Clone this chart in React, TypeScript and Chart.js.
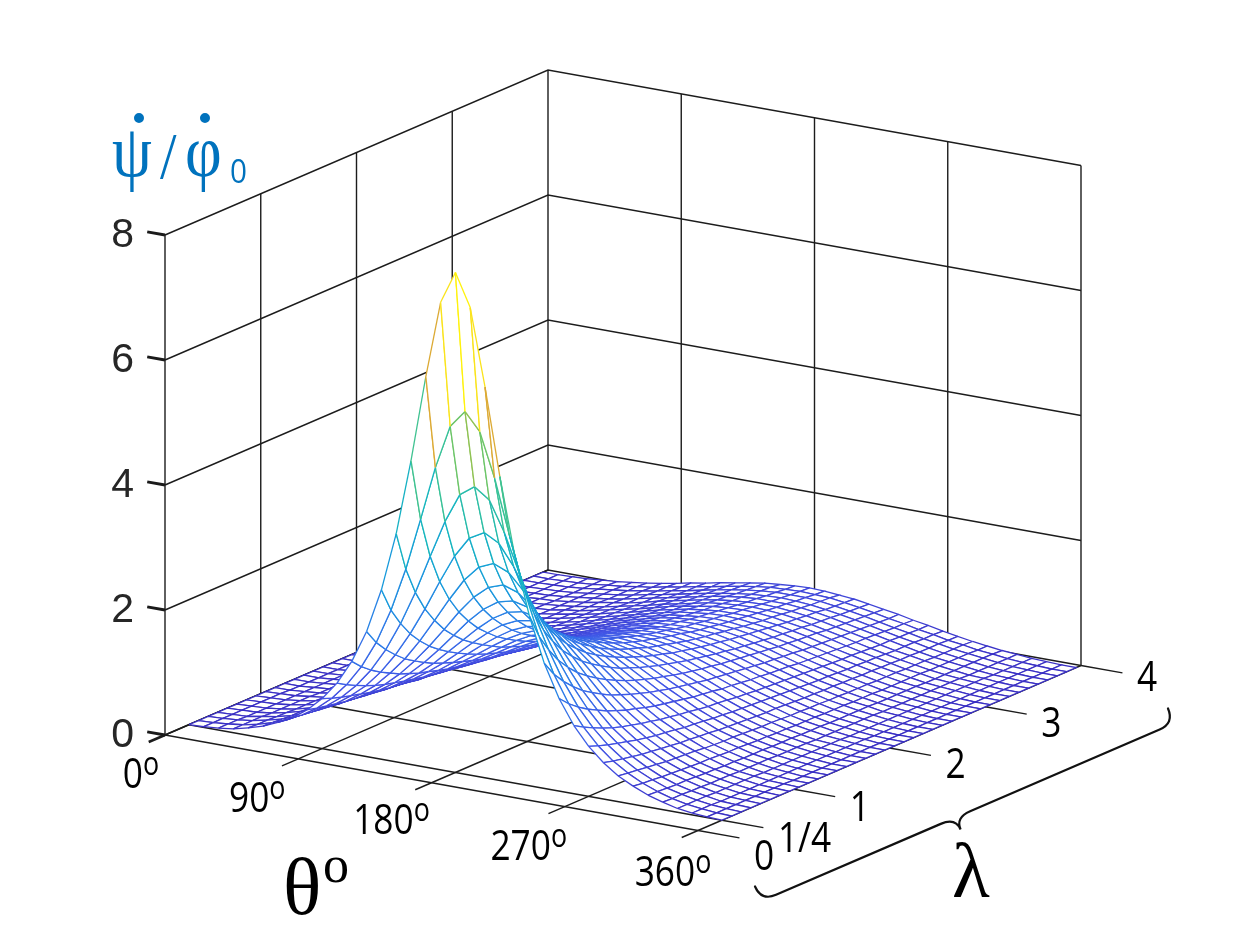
import { useEffect, useRef } from "react";
import { Chart, registerables } from "chart.js";

Chart.register(...registerables);

// mesh grid: θ in degrees (10° steps) and λ rows
const thetaDegrees = [0, 10, 20, 30, 40, 50, 60, 70, 80, 90, 100, 110, 120, 130, 140, 150, 160, 170, 180,
  190, 200, 210, 220, 230, 240, 250, 260, 270, 280, 290, 300, 310, 320, 330, 340, 350, 360];
const lambdaValues = [0.25, 0.35, 0.45, 0.55, 0.65, 0.75, 0.85, 0.95, 1.05, 1.15, 1.25, 1.35, 1.45, 1.55, 1.65,
  1.75, 1.85, 1.95, 2.05, 2.15, 2.25, 2.35, 2.45, 2.55, 2.65, 2.75, 2.85, 2.95, 3.05, 3.15, 3.25, 3.35, 3.45,
  3.55, 3.65, 3.75, 3.85, 3.95];

// ψ'/φ'0 along θ, one row per λ
const rowL025 = [0,.01,.03,.06,.12,.19,.29,.41,.58,.8,1.09,1.48,2,2.71,3.65,4.86,6.25,7.48,8,7.48,6.25,4.86,3.65,2.71,2,1.48,1.09,.8,.58,.41,.29,.19,.12,.06,.03,.01,0];
const rowL035 = [0,.01,.03,.06,.11,.18,.27,.39,.54,.74,1,1.33,1.76,2.32,3.02,3.86,4.73,5.43,5.71,5.43,4.73,3.86,3.02,2.32,1.76,1.33,1,.74,.54,.39,.27,.18,.11,.06,.03,.01,0];
const rowL045 = [0,.01,.03,.06,.11,.17,.26,.37,.51,.69,.92,1.21,1.58,2.04,2.58,3.2,3.8,4.27,4.44,4.27,3.8,3.2,2.58,2.04,1.58,1.21,.92,.69,.51,.37,.26,.17,.11,.06,.03,.01,0];
const rowL055 = [0,.01,.02,.06,.1,.16,.24,.35,.48,.65,.85,1.11,1.43,1.81,2.25,2.73,3.18,3.51,3.64,3.51,3.18,2.73,2.25,1.81,1.43,1.11,.85,.65,.48,.35,.24,.16,.1,.06,.02,.01,0];
const rowL065 = [0,.01,.02,.05,.1,.16,.23,.33,.45,.61,.79,1.03,1.3,1.63,2,2.38,2.73,2.98,3.08,2.98,2.73,2.38,2,1.63,1.3,1.03,.79,.61,.45,.33,.23,.16,.1,.05,.02,.01,0];
const rowL075 = [0,.01,.02,.05,.09,.15,.22,.31,.43,.57,.74,.95,1.2,1.48,1.79,2.11,2.39,2.59,2.67,2.59,2.39,2.11,1.79,1.48,1.2,.95,.74,.57,.43,.31,.22,.15,.09,.05,.02,.01,0];
const rowL085 = [0,.01,.02,.05,.09,.14,.21,.3,.41,.54,.7,.89,1.11,1.36,1.63,1.9,2.13,2.29,2.35,2.29,2.13,1.9,1.63,1.36,1.11,.89,.7,.54,.41,.3,.21,.14,.09,.05,.02,.01,0];
const rowL095 = [0,.01,.02,.05,.09,.14,.2,.29,.39,.51,.66,.83,1.03,1.26,1.49,1.72,1.92,2.06,2.11,2.06,1.92,1.72,1.49,1.26,1.03,.83,.66,.51,.39,.29,.2,.14,.09,.05,.02,.01,0];
const rowL105 = [0,.01,.02,.05,.08,.13,.2,.28,.37,.49,.63,.79,.97,1.17,1.38,1.58,1.75,1.86,1.9,1.86,1.75,1.58,1.38,1.17,.97,.79,.63,.49,.37,.28,.2,.13,.08,.05,.02,.01,0];
const rowL115 = [0,0,.02,.04,.08,.13,.19,.26,.36,.47,.59,.74,.91,1.09,1.28,1.45,1.6,1.7,1.74,1.7,1.6,1.45,1.28,1.09,.91,.74,.59,.47,.36,.26,.19,.13,.08,.04,.02,0,0];
const rowL125 = [0,0,.02,.04,.08,.12,.18,.25,.34,.44,.57,.7,.86,1.02,1.19,1.35,1.48,1.57,1.6,1.57,1.48,1.35,1.19,1.02,.86,.7,.57,.44,.34,.25,.18,.12,.08,.04,.02,0,0];
const rowL135 = [0,0,.02,.04,.08,.12,.18,.24,.33,.43,.54,.67,.81,.96,1.11,1.26,1.38,1.45,1.48,1.45,1.38,1.26,1.11,.96,.81,.67,.54,.43,.33,.24,.18,.12,.08,.04,.02,0,0];
const rowL145 = [0,0,.02,.04,.07,.12,.17,.24,.31,.41,.52,.64,.77,.91,1.05,1.18,1.28,1.35,1.38,1.35,1.28,1.18,1.05,.91,.77,.64,.52,.41,.31,.24,.17,.12,.07,.04,.02,0,0];
const rowL155 = [0,0,.02,.04,.07,.11,.16,.23,.3,.39,.49,.61,.73,.86,.99,1.11,1.2,1.27,1.29,1.27,1.2,1.11,.99,.86,.73,.61,.49,.39,.3,.23,.16,.11,.07,.04,.02,0,0];
const rowL165 = [0,0,.02,.04,.07,.11,.16,.22,.29,.38,.47,.58,.7,.82,.94,1.05,1.13,1.19,1.21,1.19,1.13,1.05,.94,.82,.7,.58,.47,.38,.29,.22,.16,.11,.07,.04,.02,0,0];
const rowL175 = [0,0,.02,.04,.07,.11,.15,.21,.28,.36,.46,.56,.67,.78,.89,.99,1.07,1.12,1.14,1.12,1.07,.99,.89,.78,.67,.56,.46,.36,.28,.21,.15,.11,.07,.04,.02,0,0];
const rowL185 = [0,0,.02,.04,.06,.1,.15,.21,.27,.35,.44,.54,.64,.74,.85,.94,1.02,1.06,1.08,1.06,1.02,.94,.85,.74,.64,.54,.44,.35,.27,.21,.15,.1,.06,.04,.02,0,0];
const rowL195 = [0,0,.02,.04,.06,.1,.14,.2,.26,.34,.42,.51,.61,.71,.81,.9,.96,1.01,1.03,1.01,.96,.9,.81,.71,.61,.51,.42,.34,.26,.2,.14,.1,.06,.04,.02,0,0];
const rowL205 = [0,0,.02,.03,.06,.1,.14,.19,.26,.33,.41,.5,.59,.68,.77,.85,.92,.96,.98,.96,.92,.85,.77,.68,.59,.5,.41,.33,.26,.19,.14,.1,.06,.03,.02,0,0];
const rowL215 = [0,0,.01,.03,.06,.09,.14,.19,.25,.32,.39,.48,.57,.66,.74,.82,.88,.92,.93,.92,.88,.82,.74,.66,.57,.48,.39,.32,.25,.19,.14,.09,.06,.03,.01,0,0];
const rowL225 = [0,0,.01,.03,.06,.09,.13,.18,.24,.31,.38,.46,.55,.63,.71,.78,.84,.88,.89,.88,.84,.78,.71,.63,.55,.46,.38,.31,.24,.18,.13,.09,.06,.03,.01,0,0];
const rowL235 = [0,0,.01,.03,.06,.09,.13,.18,.23,.3,.37,.45,.53,.61,.68,.75,.8,.84,.85,.84,.8,.75,.68,.61,.53,.45,.37,.3,.23,.18,.13,.09,.06,.03,.01,0,0];
const rowL245 = [0,0,.01,.03,.06,.09,.13,.17,.23,.29,.36,.43,.51,.59,.66,.72,.77,.81,.82,.81,.77,.72,.66,.59,.51,.43,.36,.29,.23,.17,.13,.09,.06,.03,.01,0,0];
const rowL255 = [0,0,.01,.03,.05,.09,.12,.17,.22,.28,.35,.42,.49,.57,.63,.7,.74,.77,.78,.77,.74,.7,.63,.57,.49,.42,.35,.28,.22,.17,.12,.09,.05,.03,.01,0,0];
const rowL265 = [0,0,.01,.03,.05,.08,.12,.16,.22,.27,.34,.41,.48,.55,.61,.67,.72,.74,.75,.74,.72,.67,.61,.55,.48,.41,.34,.27,.22,.16,.12,.08,.05,.03,.01,0,0];
const rowL275 = [0,0,.01,.03,.05,.08,.12,.16,.21,.27,.33,.39,.46,.53,.59,.65,.69,.72,.73,.72,.69,.65,.59,.53,.46,.39,.33,.27,.21,.16,.12,.08,.05,.03,.01,0,0];
const rowL285 = [0,0,.01,.03,.05,.08,.11,.16,.21,.26,.32,.38,.45,.51,.57,.63,.67,.69,.7,.69,.67,.63,.57,.51,.45,.38,.32,.26,.21,.16,.11,.08,.05,.03,.01,0,0];
const rowL295 = [0,0,.01,.03,.05,.08,.11,.15,.2,.25,.31,.37,.43,.5,.55,.61,.64,.67,.68,.67,.64,.61,.55,.5,.43,.37,.31,.25,.2,.15,.11,.08,.05,.03,.01,0,0];
const rowL305 = [0,0,.01,.03,.05,.08,.11,.15,.2,.25,.3,.36,.42,.48,.54,.59,.62,.65,.66,.65,.62,.59,.54,.48,.42,.36,.3,.25,.2,.15,.11,.08,.05,.03,.01,0,0];
const rowL315 = [0,0,.01,.03,.05,.07,.11,.15,.19,.24,.3,.35,.41,.47,.52,.57,.6,.63,.63,.63,.6,.57,.52,.47,.41,.35,.3,.24,.19,.15,.11,.07,.05,.03,.01,0,0];
const rowL325 = [0,0,.01,.03,.05,.07,.11,.14,.19,.24,.29,.34,.4,.46,.51,.55,.59,.61,.62,.61,.59,.55,.51,.46,.4,.34,.29,.24,.19,.14,.11,.07,.05,.03,.01,0,0];
const rowL335 = [0,0,.01,.03,.05,.07,.1,.14,.18,.23,.28,.33,.39,.44,.49,.54,.57,.59,.6,.59,.57,.54,.49,.44,.39,.33,.28,.23,.18,.14,.1,.07,.05,.03,.01,0,0];
const rowL345 = [0,0,.01,.03,.04,.07,.1,.14,.18,.22,.27,.33,.38,.43,.48,.52,.55,.57,.58,.57,.55,.52,.48,.43,.38,.33,.27,.22,.18,.14,.1,.07,.04,.03,.01,0,0];
const rowL355 = [0,0,.01,.02,.04,.07,.1,.13,.17,.22,.27,.32,.37,.42,.47,.51,.54,.56,.56,.56,.54,.51,.47,.42,.37,.32,.27,.22,.17,.13,.1,.07,.04,.02,.01,0,0];
const rowL365 = [0,0,.01,.02,.04,.07,.1,.13,.17,.22,.26,.31,.36,.41,.45,.49,.52,.54,.55,.54,.52,.49,.45,.41,.36,.31,.26,.22,.17,.13,.1,.07,.04,.02,.01,0,0];
const rowL375 = [0,0,.01,.02,.04,.07,.1,.13,.17,.21,.26,.3,.35,.4,.44,.48,.51,.53,.53,.53,.51,.48,.44,.4,.35,.3,.26,.21,.17,.13,.1,.07,.04,.02,.01,0,0];
const rowL385 = [0,0,.01,.02,.04,.07,.09,.13,.16,.21,.25,.3,.34,.39,.43,.47,.5,.51,.52,.51,.5,.47,.43,.39,.34,.3,.25,.21,.16,.13,.09,.07,.04,.02,.01,0,0];
const rowL395 = [0,0,.01,.02,.04,.06,.09,.12,.16,.2,.25,.29,.34,.38,.42,.46,.48,.5,.51,.5,.48,.46,.42,.38,.34,.29,.25,.2,.16,.12,.09,.06,.04,.02,.01,0,0];

const surfaceRows = [rowL025, rowL035, rowL045, rowL055, rowL065, rowL075, rowL085, rowL095, rowL105, rowL115,
  rowL125, rowL135, rowL145, rowL155, rowL165, rowL175, rowL185, rowL195, rowL205, rowL215, rowL225, rowL235,
  rowL245, rowL255, rowL265, rowL275, rowL285, rowL295, rowL305, rowL315, rowL325, rowL335, rowL345, rowL355,
  rowL365, rowL375, rowL385, rowL395];

const zTicks = [0, 2, 4, 6, 8];
const thetaTicks = [0, 90, 180, 270, 360];
const lambdaTicks = [0, 0.25, 1, 2, 3, 4];
const lambdaTickLabels = ["0", "1/4", "1", "2", "3", "4"];
const floorLambdaLines = [0, 0.25, 1, 2, 3];
const wallLambdaLines = [1, 2, 3, 4];

// box limits and the view (screen vectors of each full axis range)
const TH_MAX = 360;
const LA_MAX = 4;
const Z_MAX = 8;
const VIEW = { x0: 165, y0: 735, thX: 533, thY: 95.5, laX: 383, laY: -165, zY: 500 };

function project(t: number, l: number, z: number) {
  const a = t / TH_MAX;
  const b = l / LA_MAX;
  const c = z / Z_MAX;
  return {
    x: VIEW.x0 + a * VIEW.thX + b * VIEW.laX,
    y: VIEW.y0 + a * VIEW.thY + b * VIEW.laY - c * VIEW.zY,
  };
}

const MESH_STOPS = [
  [0.0, 58, 48, 196],
  [0.1, 66, 84, 230],
  [0.22, 44, 122, 232],
  [0.35, 20, 156, 218],
  [0.48, 22, 182, 190],
  [0.6, 58, 194, 148],
  [0.7, 122, 198, 92],
  [0.75, 198, 182, 58],
  [0.8, 234, 162, 48],
  [0.9, 244, 198, 38],
  [0.93, 250, 226, 28],
  [1.0, 255, 242, 12],
];

function meshColour(z: number) {
  const t = Math.min(1, Math.max(0, z / Z_MAX));
  for (let k = 1; k < MESH_STOPS.length; k++) {
    const a = MESH_STOPS[k - 1];
    const b = MESH_STOPS[k];
    if (t <= b[0]) {
      const f = (t - a[0]) / (b[0] - a[0]);
      const c = [1, 2, 3].map((n) => Math.round(a[n] + (b[n] - a[n]) * f));
      return `rgb(${c[0]},${c[1]},${c[2]})`;
    }
  }
  return "rgb(255,242,12)";
}

const GRID = "#1c1c1c";
const THETA_LABEL_DX = [-24, -41, -40, -36, -25];
const THETA_LABEL_DY = [38, 38, 36, 38, 40];
const LAMBDA_LABEL_DY = [24, 17, 17, 15, 15, 10];
const TICK_FONT = '42px "Open Sans", "DejaVu Sans", sans-serif';
const DEG_FONT = '32px "Open Sans", "DejaVu Sans", sans-serif';
const SERIF = '"Liberation Serif", "Times New Roman", "DejaVu Serif", serif';

function scaledText(ctx: CanvasRenderingContext2D, s: string, x: number, y: number, font: string, sx: number) {
  ctx.save();
  ctx.translate(x, y);
  ctx.scale(sx, 1);
  ctx.font = font;
  ctx.textAlign = "left";
  ctx.textBaseline = "alphabetic";
  ctx.fillText(s, 0, 0);
  ctx.restore();
}

function degreeLabel(ctx: CanvasRenderingContext2D, num: string, cx: number, cy: number) {
  const sx = 0.84;
  ctx.font = TICK_FONT;
  const wn = ctx.measureText(num).width * sx;
  ctx.font = DEG_FONT;
  const wo = ctx.measureText("o").width * sx;
  const left = cx - (wn + wo) / 2;
  scaledText(ctx, num, left, cy + 15, TICK_FONT, sx);
  scaledText(ctx, "o", left + wn, cy + 2.2, DEG_FONT, sx);
}

function drawBrace(ctx: CanvasRenderingContext2D, e1: { x: number; y: number }, e2: { x: number; y: number }) {
  const dx = e2.x - e1.x;
  const dy = e2.y - e1.y;
  const len = Math.hypot(dx, dy);
  const ux = dx / len;
  const uy = dy / len;
  const nx = -uy;
  const ny = ux;
  const h = 16;
  const r = 16;
  const s = len * 0.47;
  const P = (along: number, off: number): [number, number] => [e1.x + ux * along + nx * off, e1.y + uy * along + ny * off];
  ctx.beginPath();
  ctx.moveTo(...P(0, 0));
  ctx.quadraticCurveTo(...P(0, h), ...P(r, h));
  ctx.lineTo(...P(s - r, h));
  ctx.quadraticCurveTo(...P(s, h), ...P(s, h + 13));
  ctx.quadraticCurveTo(...P(s, h), ...P(s + r, h));
  ctx.lineTo(...P(len - r, h));
  ctx.quadraticCurveTo(...P(len, h), ...P(len, 0));
  ctx.stroke();
}

const paper = {
  id: "paper",
  beforeDraw(chart: any) {
    const ctx = chart.ctx;
    ctx.save();
    ctx.fillStyle = "#fff";
    ctx.fillRect(0, 0, chart.width, chart.height);
    ctx.restore();
  },
};

// white face behind each mesh cell, so the mesh hides what lies behind it
const faceFill = {
  id: "faceFill",
  beforeDatasetDraw(chart: any, args: any) {
    const ds = chart.data.datasets[args.index];
    if (!ds.faceFill) return;
    const pts = args.meta.data;
    const ctx = chart.ctx;
    ctx.save();
    ctx.beginPath();
    pts.forEach((p: any, i: number) => (i ? ctx.lineTo(p.x, p.y) : ctx.moveTo(p.x, p.y)));
    ctx.closePath();
    ctx.fillStyle = ds.faceFill;
    ctx.fill();
    ctx.restore();
  },
};

const axisText = {
  id: "axisText",
  afterDraw(chart: any) {
    const ctx: CanvasRenderingContext2D = chart.ctx;
    const px = (p: { x: number; y: number }) => ({
      x: chart.scales.x.getPixelForValue(p.x),
      y: chart.scales.y.getPixelForValue(p.y),
    });
    ctx.save();

    // vertical axis numbers
    ctx.fillStyle = "#262626";
    ctx.font = '41px "Liberation Sans", Arial, Helvetica, sans-serif';
    ctx.textAlign = "right";
    ctx.textBaseline = "alphabetic";
    zTicks.forEach((z) => {
      const p = px(project(0, 0, z));
      ctx.fillText(String(z), p.x - 31, p.y + 12);
    });

    // θ ticks
    ctx.fillStyle = "#000";
    thetaTicks.forEach((t, k) => {
      const p = px(project(t, 0, 0));
      degreeLabel(ctx, String(t), p.x + THETA_LABEL_DX[k], p.y + THETA_LABEL_DY[k]);
    });

    // λ ticks
    lambdaTicks.forEach((l, k) => {
      const p = px(project(TH_MAX, l, 0));
      scaledText(ctx, lambdaTickLabels[k], p.x + 56, p.y + LAMBDA_LABEL_DY[k] + 15, TICK_FONT, 0.84);
    });

    // brace along the λ axis
    const b0 = px(project(TH_MAX, 0, 0));
    const b1 = px(project(TH_MAX, LA_MAX, 0));
    ctx.strokeStyle = "#111";
    ctx.lineWidth = 2.2;
    ctx.lineCap = "round";
    drawBrace(ctx, { x: b0.x + 57, y: b0.y + 56 }, { x: b1.x + 87, y: b1.y + 43 });

    // axis titles
    ctx.textAlign = "left";
    ctx.fillStyle = "#000";
    ctx.font = `80px ${SERIF}`;
    ctx.fillText("θ", 283, 914);
    ctx.font = `52px ${SERIF}`;
    ctx.fillText("o", 323, 882);
    ctx.font = `78px ${SERIF}`;
    ctx.fillText("λ", 952, 897);

    // ψ'/φ'0 title
    ctx.fillStyle = "#0072BD";
    scaledText(ctx, "ψ", 112, 176, `74px ${SERIF}`, 0.86);
    scaledText(ctx, "/", 160, 178, `66px ${SERIF}`, 0.9);
    scaledText(ctx, "φ", 185, 176, `74px ${SERIF}`, 0.86);
    scaledText(ctx, "0", 230, 183, '33px "Open Sans", sans-serif', 0.9);
    ctx.beginPath();
    ctx.arc(139, 118, 5, 0, Math.PI * 2);
    ctx.arc(205, 118, 5, 0, Math.PI * 2);
    ctx.fill();

    ctx.restore();
  },
};

export default function App() {
  const canvasRef = useRef<HTMLCanvasElement>(null);

  useEffect(() => {
    const canvas = canvasRef.current;
    if (!canvas) return;

    const datasets: any[] = [];
    const faceCount = (thetaDegrees.length - 1) * (lambdaValues.length - 1);
    const BACK = faceCount + 10;

    const addLine = (pts: { x: number; y: number }[], colour: string, width: number) =>
      datasets.push({
        data: pts,
        borderColor: colour,
        borderWidth: width,
        pointRadius: 0,
        fill: false,
        tension: 0,
        order: BACK,
      });

    // walls
    zTicks.forEach((z) => addLine([project(0, 0, z), project(0, LA_MAX, z), project(TH_MAX, LA_MAX, z)], GRID, 1.4));
    addLine([project(0, 0, 0), project(0, 0, Z_MAX)], GRID, 1.4);
    wallLambdaLines.forEach((l) => addLine([project(0, l, 0), project(0, l, Z_MAX)], GRID, 1.4));
    thetaTicks.slice(1).forEach((t) => addLine([project(t, LA_MAX, 0), project(t, LA_MAX, Z_MAX)], GRID, 1.4));
    // floor
    thetaTicks.forEach((t) => addLine([project(t, 0, 0), project(t, LA_MAX, 0)], GRID, 1.4));
    floorLambdaLines.forEach((l) => addLine([project(0, l, 0), project(TH_MAX, l, 0)], GRID, 1.4));
    // tick marks
    zTicks.forEach((z) => addLine([project(0, 0, z), project(-12, 0, z)], "#1a1a1a", 2.8));
    thetaTicks.forEach((t, k) => addLine([project(t, 0, 0), project(t, -0.17, 0)], GRID, k === 0 ? 2.6 : 1.4));
    lambdaTicks.forEach((l) => addLine([project(TH_MAX, l, 0), project(TH_MAX + 28, l, 0)], GRID, 1.4));

    // mesh cells, painted from the far side to the near side
    const faces: { pts: { x: number; y: number }[]; cols: string[]; depth: number }[] = [];
    for (let j = 0; j < lambdaValues.length - 1; j++) {
      for (let i = 0; i < thetaDegrees.length - 1; i++) {
        const t0 = thetaDegrees[i];
        const t1 = thetaDegrees[i + 1];
        const l0 = lambdaValues[j];
        const l1 = lambdaValues[j + 1];
        const zA = surfaceRows[j][i];
        const zB = surfaceRows[j][i + 1];
        const zC = surfaceRows[j + 1][i + 1];
        const zD = surfaceRows[j + 1][i];
        const A = project(t0, l0, zA);
        faces.push({
          pts: [A, project(t1, l0, zB), project(t1, l1, zC), project(t0, l1, zD), A],
          cols: [meshColour(zA), meshColour(zB), meshColour(zD), meshColour(zA)],
          depth: project((t0 + t1) / 2, (l0 + l1) / 2, 0).y,
        });
      }
    }
    faces.sort((a, b) => a.depth - b.depth);
    faces.forEach((f, k) => {
      datasets.push({
        data: f.pts,
        faceFill: "#ffffff",
        borderColor: f.cols[0],
        borderWidth: 1.3,
        pointRadius: 0,
        fill: false,
        tension: 0,
        order: faceCount - k + 1,
        segment: { borderColor: (c: any) => f.cols[c.p0DataIndex] },
      });
    });

    const chart = new Chart(canvas, {
      type: "line",
      data: { datasets },
      options: {
        animation: false,
        responsive: false,
        events: [],
        parsing: false,
        layout: { padding: 0 },
        plugins: {
          legend: { display: false },
          tooltip: { enabled: false },
          title: { display: false },
        },
        scales: {
          x: { type: "linear", min: 0, max: 1260, display: false },
          y: { type: "linear", min: 0, max: 945, reverse: true, display: false },
        },
      },
      plugins: [paper, faceFill, axisText],
    } as any);

    return () => {
      chart.destroy();
    };
  }, []);

  return (
    <div style={{ position: "absolute", left: 0, top: 0, width: 1260, height: 945, background: "#fff" }}>
      <canvas ref={canvasRef} width={1260} height={945} style={{ display: "block" }}></canvas>
    </div>
  );
}
